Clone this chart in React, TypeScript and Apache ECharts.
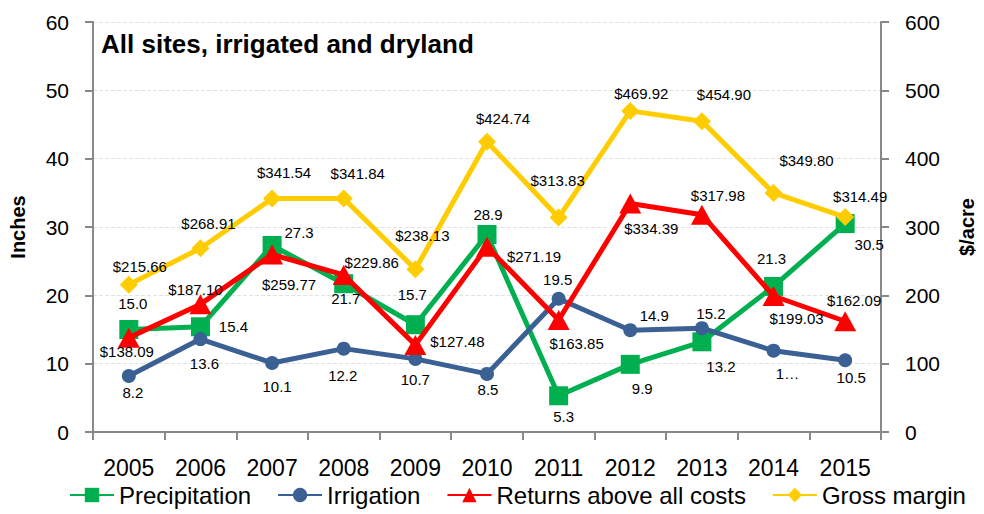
import React, { useEffect, useRef } from "react";
import * as echarts from "echarts";

const years = ["2005", "2006", "2007", "2008", "2009", "2010", "2011", "2012", "2013", "2014", "2015"];
const precipitation = [15.0, 15.4, 27.3, 21.7, 15.7, 28.9, 5.3, 9.9, 13.2, 21.3, 30.5];
const irrigation = [8.2, 13.6, 10.1, 12.2, 10.7, 8.5, 19.5, 14.9, 15.2, 11.9, 10.5];
const returnsAboveCosts = [138.09, 187.1, 259.77, 229.86, 127.48, 271.19, 163.85, 334.39, 317.98, 199.03, 162.09];
const grossMargin = [215.66, 268.91, 341.54, 341.84, 238.13, 424.74, 313.83, 469.92, 454.9, 349.8, 314.49];
const leftTicks = [0, 10, 20, 30, 40, 50, 60];
const rightTicks = [0, 100, 200, 300, 400, 500, 600];

// label offsets (dx, dy) relative to each point
const precipOffsets = [[4, -26], [33, 0], [27, -13], [2, 15], [-3, -30], [1, -20], [5, 21], [12, 24], [19, 25], [-2, -28], [24, 21]];
const irrigOffsets = [[4, 17], [4, 24], [5, 24], [-1, 27], [0, 21], [1, 16], [-1, -19], [24, -15], [9, -15], [14, 23], [6, 17]];
const returnsOffsets = [[-2, 14], [-5, -15], [17, 30], [28, -12], [42, -3], [47, 10], [18, 23], [21, 25], [16, -19], [23, 23], [9, -21]];
const grossOffsets = [[11, -18], [8, -25], [12, -26], [14, -25], [7, -34], [16, -23], [-1, -37], [11, -17], [22, -27], [33, -32], [15, -21]];

const FONT = "'Liberation Sans', Arial, sans-serif";

function withOffsets(values: number[], offs: number[][]) {
  return values.map((v, i) => ({ value: v, label: { offset: offs[i] } }));
}

export default function App() {
  const ref = useRef<HTMLDivElement>(null);
  useEffect(() => {
    if (!ref.current) return;
    const chart = echarts.init(ref.current, null, { renderer: "svg" });
    const baseLabel = {
      show: true,
      position: "inside" as const,
      fontSize: 15,
      fontFamily: FONT,
      color: "#000",
    };
    chart.setOption({
      animation: false,
      backgroundColor: "#fff",
      textStyle: { fontFamily: FONT },
      title: {
        text: "All sites, irrigated and dryland",
        left: 101,
        top: 31,
        padding: 0,
        textStyle: { fontSize: 26, fontWeight: "bold", color: "#000", fontFamily: FONT },
      },
      grid: { left: 93, right: 103, top: 22, bottom: 82, containLabel: false, outerBoundsMode: "none" },
      legend: {
        bottom: 2,
        left: 64,
        itemWidth: 44,
        itemHeight: 18,
        itemGap: 26,
        textStyle: { fontSize: 24, color: "#000", fontFamily: FONT },
        data: ["Precipitation", "Irrigation", "Returns above all costs", "Gross margin"],
      },
      xAxis: {
        type: "category",
        data: years,
        boundaryGap: true,
        axisLine: { lineStyle: { color: "#888", width: 2 } },
        axisTick: { show: true, length: 8, lineStyle: { color: "#888", width: 2 } },
        axisLabel: { fontSize: 23, color: "#000", margin: 24, fontFamily: FONT },
      },
      yAxis: [
        {
          type: "value",
          min: leftTicks[0],
          max: leftTicks[leftTicks.length - 1],
          interval: 10,
          name: "Inches",
          nameLocation: "middle",
          nameGap: 65,
          nameTextStyle: { fontSize: 20, fontWeight: "bold", color: "#000", fontFamily: FONT },
          axisLine: { show: true, lineStyle: { color: "#888", width: 2 } },
          axisTick: { show: true, length: 8, lineStyle: { color: "#888", width: 2 } },
          axisLabel: { fontSize: 21, color: "#000", margin: 24, fontFamily: FONT },
          splitLine: { show: true, lineStyle: { color: "#e2e2e2", type: "dashed", width: 1 } },
        },
        {
          type: "value",
          min: rightTicks[0],
          max: rightTicks[rightTicks.length - 1],
          interval: 100,
          name: "$/acre",
          nameLocation: "middle",
          nameGap: 76,
          nameRotate: 90,
          nameTextStyle: { fontSize: 20, fontWeight: "bold", color: "#000", fontFamily: FONT },
          axisLine: { show: true, lineStyle: { color: "#888", width: 2 } },
          axisTick: { show: true, length: 8, lineStyle: { color: "#888", width: 2 } },
          axisLabel: { fontSize: 21, color: "#000", margin: 24, fontFamily: FONT },
          splitLine: { show: false },
        },
      ],
      series: [
        {
          name: "Precipitation",
          type: "line",
          yAxisIndex: 0,
          data: withOffsets(precipitation, precipOffsets),
          symbol: "rect",
          symbolSize: 19,
          lineStyle: { color: "#00B050", width: 5 },
          itemStyle: { color: "#00B050" },
          label: { ...baseLabel, formatter: (p: any) => Number(p.value).toFixed(1) },
          z: 2,
        },
        {
          name: "Irrigation",
          type: "line",
          yAxisIndex: 0,
          data: withOffsets(irrigation, irrigOffsets),
          symbol: "circle",
          symbolSize: 14,
          lineStyle: { color: "#3A6094", width: 5 },
          itemStyle: { color: "#3A6094" },
          label: {
            ...baseLabel,
            formatter: (p: any) => (p.dataIndex === 9 ? "1…" : Number(p.value).toFixed(1)),
          },
          z: 3,
        },
        {
          name: "Returns above all costs",
          type: "line",
          yAxisIndex: 1,
          data: withOffsets(returnsAboveCosts, returnsOffsets),
          symbol: "triangle",
          symbolSize: [22, 20],
          lineStyle: { color: "#FF0000", width: 5 },
          itemStyle: { color: "#FF0000" },
          label: { ...baseLabel, formatter: (p: any) => "$" + Number(p.value).toFixed(2) },
          z: 4,
        },
        {
          name: "Gross margin",
          type: "line",
          yAxisIndex: 1,
          data: withOffsets(grossMargin, grossOffsets),
          symbol: "diamond",
          symbolSize: 18,
          lineStyle: { color: "#FFCC00", width: 5 },
          itemStyle: { color: "#FFCC00" },
          label: { ...baseLabel, formatter: (p: any) => "$" + Number(p.value).toFixed(2) },
          z: 5,
        },
      ],
    });
    return () => chart.dispose();
  }, []);
  return <div ref={ref} style={{ width: 984, height: 514, position: "absolute", left: 0, top: 0 }} />;
}
